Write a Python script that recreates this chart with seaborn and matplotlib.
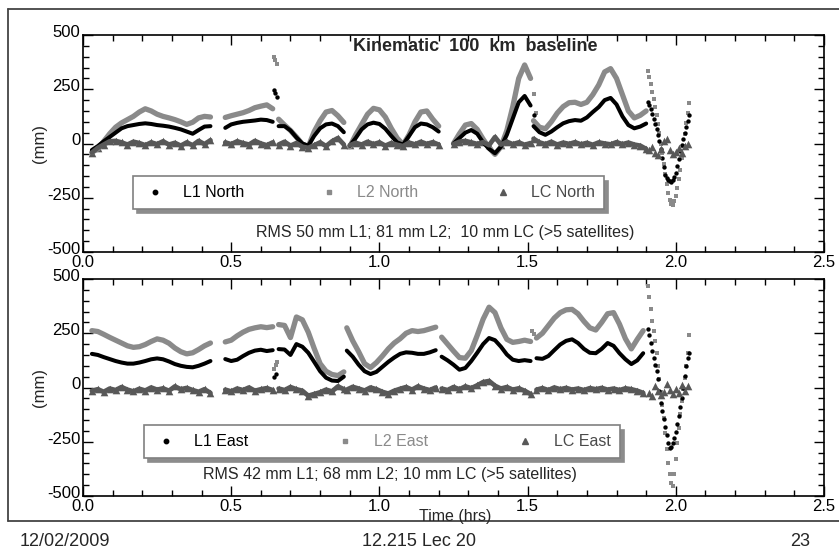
import numpy as np
import pandas as pd
import matplotlib
matplotlib.use("Agg")
import matplotlib.pyplot as plt
import matplotlib.transforms as mtransforms
from matplotlib.lines import Line2D
from matplotlib.ticker import MultipleLocator, FormatStrFormatter
import seaborn as sns

sns.set_style("ticks")
plt.rcParams["font.family"] = ["Liberation Sans", "DejaVu Sans"]
plt.rcParams["axes.unicode_minus"] = False

# Epoch spacing (hours) of the tabulated positions
STEP = 0.02
TAIL_STEP = 0.005
LC_TAIL_STEP = 0.01

# ---------------- North component (mm) ----------------
NORTH_STARTS = [0.03, 0.48, 0.66, 0.90, 1.25, 1.52]
L1_NORTH = [
    [-30, -12, 10, 30, 50, 70, 80, 85, 90, 93, 90, 85, 82, 78, 72, 65, 55, 45, 62, 78, 80],
    [72, 88, 95, 100, 103, 106, 110, 108, 100],
    [80, 80, 60, 28, 0, -10, 35, 70, 88, 92, 80, 52],
    [-10, 25, 65, 88, 96, 90, 68, 35, 5, -5, 35, 75, 92, 88, 75, 55],
    [0, 25, 50, 62, 45, 5, -25, -45, -15, 40, 115, 190, 219, 175],
    [80, 52, 40, 55, 75, 93, 103, 108, 105, 120, 145, 168, 200, 210, 180, 125, 85, 70, 78, 92],
]
L2_NORTH = [
    [-40, -25, 10, 45, 75, 95, 110, 125, 145, 160, 150, 135, 125, 118, 110, 100, 88, 98, 118, 125, 122],
    [120, 128, 135, 142, 152, 165, 172, 178, 160],
    [112, 85, 60, 30, -3, -15, 55, 105, 145, 152, 128, 97],
    [-15, 40, 88, 135, 162, 155, 122, 70, 25, -5, 40, 100, 145, 150, 112, 80],
    [0, 45, 85, 92, 65, 20, -20, -50, -15, 60, 170, 300, 362, 300],
    [105, 75, 68, 100, 140, 170, 188, 190, 180, 190, 225, 270, 330, 345, 300, 225, 150, 118, 130, 150],
]
LC_NORTH = [
    [-42, -20, -5, 10, 12, 5, -5, 8, 2, -8, 5, -3, 10, -5, 3, -10, 5, -8, 12, -3, 15],
    [5, -3, 10, 2, -5, 12, 0, -8, 5],
    [-5, 8, -10, 2, -15, -20, -8, 5, -12, 10, 25, -5],
    [-8, 3, -5, 8, -3, 5, -10, 2, -6, -12, 4, -4, 8, -2, 6, -5],
    [-3, 8, 12, 5, -2, 6, -8, 30, -5, 8, -3, 5, -6, 2],
    [22, 5, -3, 8, -5, 4, -2, 6, -4, 3, -6, 5, 0, -4, 6, -3, 4, -5, -10, -25],
]
NORTH_TAIL_START = 1.905
L1_NORTH_TAIL = [190, 178, 160, 138, 115, 90, 65, 38, 10, -25, -65, -110, -145, -160, -168,
                 -175, -176, -168, -155, -135, -105, -70, -35, -5, 20, 47, 75, 105, 130]
L2_NORTH_TAIL = [335, 305, 272, 238, 203, 168, 130, 88, 47, 0, -45, -95, -140, -185, -228,
                 -262, -280, -284, -265, -240, -205, -165, -120, -65, -10, 45, 93, 140, 185]
LC_NORTH_TAIL_START = 1.91
LC_NORTH_TAIL = [-30, -15, -45, -55, -25, 10, 20, -30, -50, -40, -20, -45, -10, 0]
L1_NORTH_EXTRA_T = [0.645, 0.649, 0.653, 1.52]
L1_NORTH_EXTRA = [245, 232, 215, 130]
L2_NORTH_EXTRA_T = [0.645, 0.649, 0.653, 1.52, 1.53]
L2_NORTH_EXTRA = [400, 385, 365, 230, 140]

# ---------------- East component (mm) ----------------
EAST_STARTS = [0.03, 0.48, 0.66, 0.89, 1.21, 1.53]
L1_EAST = [
    [155, 150, 140, 131, 122, 115, 110, 110, 115, 122, 130, 134, 130, 120, 108, 100, 95, 93, 100, 110, 122],
    [131, 122, 128, 145, 160, 170, 174, 168, 172],
    [177, 175, 150, 200, 188, 160, 118, 75, 45, 32, 30, 50],
    [170, 142, 105, 75, 62, 72, 95, 118, 138, 155, 162, 160, 155, 155, 162, 172],
    [142, 125, 105, 82, 90, 122, 160, 200, 228, 218, 188, 152, 128, 122, 126, 122],
    [135, 132, 145, 172, 198, 215, 222, 205, 178, 160, 158, 178, 205, 192, 158, 130, 108, 125, 158],
]
L2_EAST = [
    [262, 258, 245, 231, 218, 205, 192, 185, 188, 198, 212, 224, 218, 204, 182, 165, 155, 160, 175, 192, 205],
    [210, 218, 238, 255, 268, 275, 280, 276, 280],
    [290, 286, 230, 325, 312, 255, 180, 110, 75, 60, 55, 72],
    [275, 215, 165, 110, 92, 115, 145, 178, 205, 225, 250, 262, 258, 262, 270, 278],
    [232, 200, 168, 138, 135, 170, 240, 315, 370, 345, 275, 222, 208, 212, 218, 212],
    [228, 250, 285, 320, 345, 358, 360, 340, 305, 275, 265, 300, 340, 345, 292, 225, 178, 222, 262],
]
LC_EAST = [
    [-15, -8, -20, -5, -12, 2, -10, -18, -6, -14, 0, -10, -4, -15, 5, -8, -2, -12, -20, -8, -25],
    [-10, -18, -5, -12, 0, -15, -8, -3, -12],
    [-5, -12, 2, -8, -15, -38, -30, -22, -10, -18, 5, -8],
    [-10, 3, -5, -14, 0, -8, -20, -28, -15, -6, 2, -10, 5, -5, -12, 0],
    [-5, -12, 2, -8, 5, -3, 10, 25, 30, 8, -5, 2, -10, -4, -15, -30],
    [-10, -3, -12, 0, -8, -2, -10, -5, -12, -3, -8, -2, -10, -5, -12, -4, -8, -15, -25],
]
EAST_TAIL_START = 1.905
L1_EAST_TAIL = [270, 240, 205, 170, 135, 105, 75, 40, -15, -70, -110, -145, -180, -220, -255,
                -280, -275, -255, -235, -205, -170, -130, -90, -50, 0, 55, 100, 135, 160]
L2_EAST_TAIL = [470, 415, 360, 307, 262, 212, 160, 100, 37, -20, -80, -140, -210, -285, -350,
                -400, -440, -455, -400, -330, -255, -185, -120, -60, -5, 45, 100, 160, 240]
LC_EAST_TAIL_START = 1.91
LC_EAST_TAIL = [-25, -40, 5, -15, -35, -20, 15, -10, -30, -5, -25, 10, -15, 5]
L1_EAST_EXTRA_T = [0.645, 0.650]
L1_EAST_EXTRA = [50, 62]
L2_EAST_EXTRA_T = [0.645, 0.650, 0.655, 1.516, 1.520]
L2_EAST_EXTRA = [85, 102, 118, 262, 245]

# ---------------- styling ----------------
COLORS = {"L1": "#000000", "L2": "#8a8a8a", "LC": "#585858"}
LINE_W = {"L1": 2.9, "L2": 3.8, "LC": 3.4}
MARK = {"L1": "o", "L2": "s", "LC": "^"}
MARK_S = {"L1": 10, "L2": 12, "LC": 30}


def dense_frame(starts, segs_by_signal):
    rows = []
    for sig, segs in segs_by_signal.items():
        for k, (t0, vals) in enumerate(zip(starts, segs)):
            for i, v in enumerate(vals):
                rows.append((round(t0 + STEP * i, 4), v, sig, f"{sig}-{k}"))
    return pd.DataFrame(rows, columns=["time", "mm", "signal", "piece"])


def sparse_frame(items):
    rows = []
    for sig, times, vals in items:
        rows += [(t, v, sig) for t, v in zip(times, vals)]
    return pd.DataFrame(rows, columns=["time", "mm", "signal"])


def tail_times(t0, step, n):
    return [round(t0 + step * i, 4) for i in range(n)]


north_dense = dense_frame(NORTH_STARTS, {"L2": L2_NORTH, "L1": L1_NORTH, "LC": LC_NORTH})
north_sparse = sparse_frame([
    ("L2", tail_times(NORTH_TAIL_START, TAIL_STEP, len(L2_NORTH_TAIL)), L2_NORTH_TAIL),
    ("L2", L2_NORTH_EXTRA_T, L2_NORTH_EXTRA),
    ("L1", tail_times(NORTH_TAIL_START, TAIL_STEP, len(L1_NORTH_TAIL)), L1_NORTH_TAIL),
    ("L1", L1_NORTH_EXTRA_T, L1_NORTH_EXTRA),
    ("LC", tail_times(LC_NORTH_TAIL_START, LC_TAIL_STEP, len(LC_NORTH_TAIL)), LC_NORTH_TAIL),
])
east_dense = dense_frame(EAST_STARTS, {"L2": L2_EAST, "L1": L1_EAST, "LC": LC_EAST})
east_sparse = sparse_frame([
    ("L2", tail_times(EAST_TAIL_START, TAIL_STEP, len(L2_EAST_TAIL)), L2_EAST_TAIL),
    ("L2", L2_EAST_EXTRA_T, L2_EAST_EXTRA),
    ("L1", tail_times(EAST_TAIL_START, TAIL_STEP, len(L1_EAST_TAIL)), L1_EAST_TAIL),
    ("L1", L1_EAST_EXTRA_T, L1_EAST_EXTRA),
    ("LC", tail_times(LC_EAST_TAIL_START, LC_TAIL_STEP, len(LC_EAST_TAIL)), LC_EAST_TAIL),
])


def draw_panel(fig, ax, dense, sparse):
    for sig in ["L2", "L1", "LC"]:
        sub = dense[dense.signal == sig]
        sns.lineplot(data=sub, x="time", y="mm", units="piece", estimator=None, sort=False,
                     color=COLORS[sig], linewidth=LINE_W[sig], legend=False, ax=ax)
        if sig == "LC":
            sns.scatterplot(data=sub, x="time", y="mm", marker="^", s=30,
                            color=COLORS[sig], linewidth=0, legend=False, ax=ax)
        sp = sparse[sparse.signal == sig]
        sns.scatterplot(data=sp, x="time", y="mm", marker=MARK[sig], s=MARK_S[sig],
                        color=COLORS[sig], linewidth=0, legend=False, ax=ax)
    ax.set_xlim(0, 2.5)
    ax.set_ylim(-500, 500)
    ax.set_xlabel("")
    ax.set_ylabel("")
    ax.xaxis.set_major_locator(MultipleLocator(0.5))
    ax.xaxis.set_minor_locator(MultipleLocator(0.1))
    ax.xaxis.set_major_formatter(FormatStrFormatter("%.1f"))
    ax.yaxis.set_major_locator(MultipleLocator(250))
    ax.yaxis.set_minor_locator(MultipleLocator(50))
    ax.tick_params(which="both", direction="in", top=True, right=True, width=1.0,
                   colors="black", labelsize=12)
    ax.tick_params(which="major", length=7)
    ax.tick_params(which="minor", length=4)
    ax.tick_params(axis="x", pad=2.5)
    ax.tick_params(axis="y", pad=2)
    # y tick labels sit slightly above their ticks
    lift = mtransforms.ScaledTranslation(0, 3 / 72, fig.dpi_scale_trans)
    for lab in ax.get_yticklabels():
        lab.set_transform(lab.get_transform() + lift)
    for s in ax.spines.values():
        s.set_linewidth(1.2)
        s.set_color("black")


def add_legend(ax, labels, anchor):
    handles = [
        Line2D([], [], ls="none", marker="o", ms=3.2, color=COLORS["L1"]),
        Line2D([], [], ls="none", marker="s", ms=3.4, color=COLORS["L2"]),
        Line2D([], [], ls="none", marker="^", ms=5.0, color=COLORS["LC"]),
    ]
    leg = ax.legend(handles, labels, loc="lower left", bbox_to_anchor=anchor, mode="expand",
                    ncol=3, frameon=True, fancybox=False, framealpha=1, edgecolor="0.5",
                    shadow={"ox": 3, "oy": -3, "facecolor": "0.55", "edgecolor": "0.55", "alpha": 1},
                    borderaxespad=0, fontsize=11.5, handletextpad=1.0, handlelength=1.6,
                    borderpad=0.55)
    leg.get_frame().set_linewidth(1.2)
    for txt, c in zip(leg.get_texts(), ["#000000", "#8a8a8a", "#4a4a4a"]):
        txt.set_color(c)
    return leg


fig = plt.figure(figsize=(8.39, 5.54), dpi=100)
ax_n = fig.add_axes([83 / 839, 1 - 252 / 554, 741 / 839, 217 / 554])
ax_e = fig.add_axes([83 / 839, 1 - 496 / 554, 741 / 839, 217 / 554])

draw_panel(fig, ax_n, north_dense, north_sparse)
draw_panel(fig, ax_e, east_dense, east_sparse)

add_legend(ax_n, ["L1 North", "L2 North", "LC North"], (0.0675, 0.198, 0.6356, 0.147))
add_legend(ax_e, ["L1 East", "L2 East", "LC East"], (0.0823, 0.175, 0.642, 0.138))

ax_n.text(0.53, 0.949, "Kinematic  100  km  baseline", transform=ax_n.transAxes,
          ha="center", va="center", fontsize=13, fontweight="bold")
ax_n.text(0.4885, 0.0876, "RMS 50 mm L1; 81 mm L2;  10 mm LC (>5 satellites)",
          transform=ax_n.transAxes, ha="center", va="center", fontsize=11.5)
ax_e.text(0.414, 0.101, "RMS 42 mm L1; 68 mm L2; 10 mm LC (>5 satellites)",
          transform=ax_e.transAxes, ha="center", va="center", fontsize=11.5)

fig.text(40 / 839, 1 - 143.5 / 554, "(mm)", rotation=90, ha="center", va="center", fontsize=12)
fig.text(40 / 839, 1 - 387.5 / 554, "(mm)", rotation=90, ha="center", va="center", fontsize=12)
fig.text(455 / 839, 1 - 516 / 554, "Time (hrs)", ha="center", va="center", fontsize=11.5)

# slide frame
frame_kw = dict(color="#444444", linewidth=1.3, transform=fig.transFigure)
fig.add_artist(Line2D([8 / 839, 1.0], [1 - 9 / 554, 1 - 9 / 554], **frame_kw))
fig.add_artist(Line2D([8 / 839, 8 / 839], [1 - 9 / 554, 1 - 521 / 554], **frame_kw))
fig.add_artist(Line2D([8 / 839, 1.0], [1 - 521 / 554, 1 - 521 / 554], **frame_kw))

fig.text(20 / 839, 1 - 541 / 554, "12/02/2009", ha="left", va="center", fontsize=13)
fig.text(419 / 839, 1 - 541 / 554, "12.215 Lec 20", ha="center", va="center", fontsize=13)
fig.text(800 / 839, 1 - 541 / 554, "23", ha="center", va="center", fontsize=13)

fig.savefig("out.png", dpi=100)
